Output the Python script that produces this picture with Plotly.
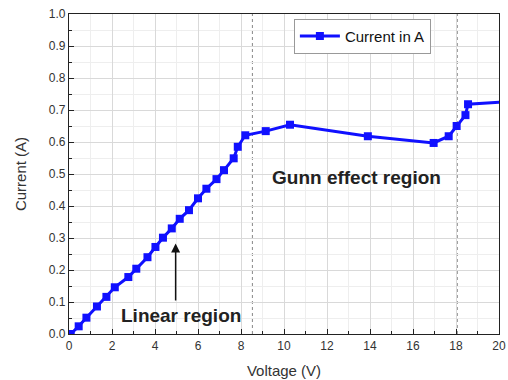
import plotly.graph_objects as go

voltage = [0.08, 0.45, 0.81, 1.3, 1.74, 2.13, 2.76, 3.13, 3.65, 4.02, 4.37, 4.78, 5.15, 5.58,
           6.0, 6.39, 6.86, 7.21, 7.66, 7.85, 8.2, 9.15, 10.28, 13.9, 16.96, 17.66, 18.03,
           18.44, 18.56, 20.4]
current = [0.0, 0.024, 0.051, 0.086, 0.116, 0.146, 0.178, 0.204, 0.24, 0.272, 0.301, 0.33,
           0.36, 0.387, 0.424, 0.454, 0.484, 0.512, 0.549, 0.585, 0.621, 0.634, 0.654, 0.618,
           0.597, 0.618, 0.65, 0.684, 0.718, 0.726]
region_bounds = [8.53, 18.06]

FONT = "Liberation Sans, Arial"

fig = go.Figure()
fig.add_trace(go.Scatter(
    x=voltage, y=current, mode="lines+markers", name="Current in A",
    line=dict(color="#1010ff", width=3),
    marker=dict(symbol="square", size=8, color="#1010ff"),
    cliponaxis=True,
))

for xb in region_bounds:
    fig.add_shape(type="line", x0=xb, x1=xb, y0=0, y1=1, xref="x", yref="y",
                  line=dict(color="#888888", width=1, dash="dot"), layer="below")

fig.add_annotation(x=4.96, y=0.283, ax=4.96, ay=0.10, xref="x", yref="y", axref="x", ayref="y",
                   showarrow=True, arrowhead=2, arrowsize=1.2, arrowwidth=1.5, arrowcolor="#111111", text="")
fig.add_annotation(x=5.2, y=0.058, xref="x", yref="y", text="<b>Linear region</b>", showarrow=False,
                   font=dict(family=FONT, size=19, color="#222222"))
fig.add_annotation(x=13.36, y=0.49, xref="x", yref="y", text="<b>Gunn effect region</b>", showarrow=False,
                   font=dict(family=FONT, size=19, color="#222222"))

axis_common = dict(
    showline=True, linecolor="#222222", linewidth=1.2, mirror=True,
    ticks="inside", ticklen=5, tickcolor="#222222",
    showgrid=True, gridcolor="#d9d9d9", gridwidth=1,
    tickfont=dict(family=FONT, size=12, color="#333333"),
    zeroline=False, automargin=False, ticklabeloverflow="allow",
)

fig.update_xaxes(range=[0, 20], dtick=2, tick0=0, **axis_common,
                 minor=dict(dtick=1, ticks="inside", ticklen=3, showgrid=True, gridcolor="#eeeeee", tickcolor="#222222"),
                 title=dict(text="Voltage (V)", font=dict(family=FONT, size=15, color="#333333"), standoff=13))
fig.update_yaxes(range=[0, 1.0], dtick=0.1, tick0=0, tickformat=".1f", **axis_common,
                 minor=dict(dtick=0.05, ticks="inside", ticklen=3, showgrid=True, gridcolor="#eeeeee", tickcolor="#222222"),
                 title=dict(text="Current (A)", font=dict(family=FONT, size=15, color="#333333"), standoff=18))

fig.update_layout(
    width=508, height=380,
    margin=dict(l=69, r=9, t=14, b=46),
    paper_bgcolor="white", plot_bgcolor="white",
    showlegend=True,
    legend=dict(x=0.523, y=0.985, xanchor="left", yanchor="top",
                bgcolor="white", bordercolor="#999999", borderwidth=1,
                font=dict(family=FONT, size=15, color="#111111"),
                itemwidth=40, tracegroupgap=0),
)

fig.write_html("out.html", config={"displayModeBar": False},
               post_script="document.body.style.margin='0';document.body.style.overflow='hidden';")
